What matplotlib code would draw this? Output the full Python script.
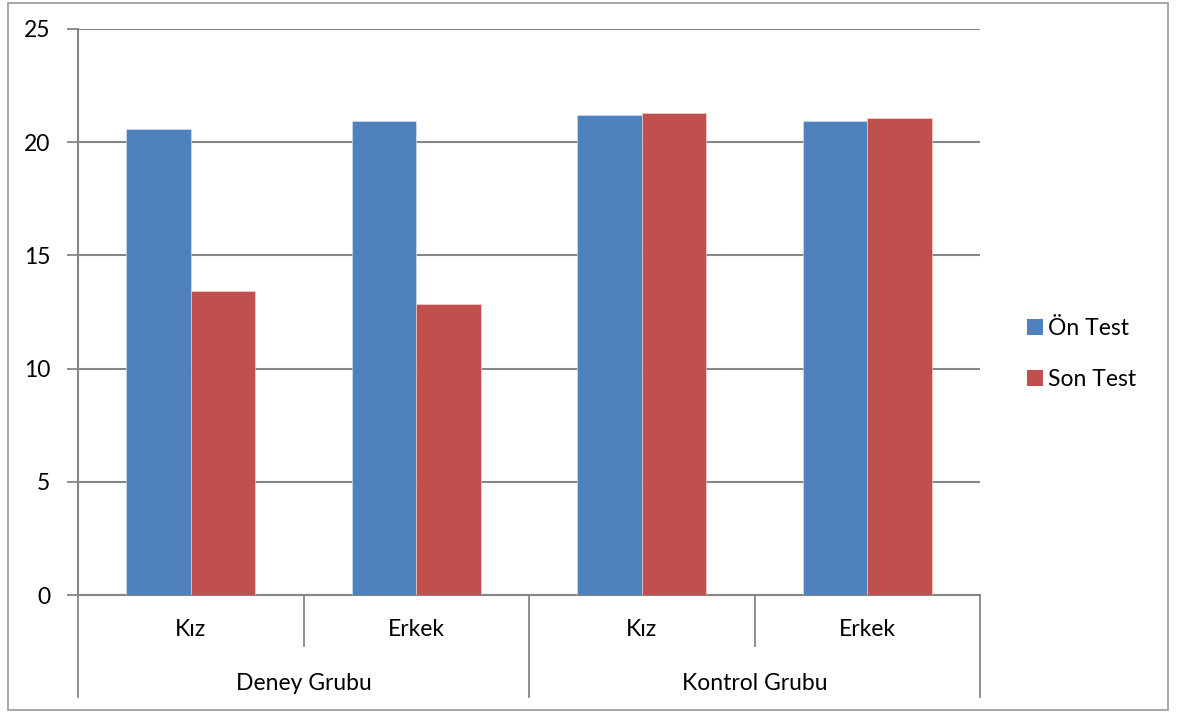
import matplotlib
matplotlib.use("Agg")
import matplotlib.pyplot as plt
from matplotlib.patches import Rectangle, Patch
import numpy as np

plt.rcParams['font.family'] = ['Lato', 'DejaVu Sans']

groups = ["Deney Grubu", "Kontrol Grubu"]
subcats = ["Kız", "Erkek", "Kız", "Erkek"]
series_names = ["Ön Test", "Son Test"]
on_test = [20.58, 20.92, 21.21, 20.93]
son_test = [13.42, 12.84, 21.29, 21.05]
yticks = [0, 5, 10, 15, 20, 25]

blue = "#4F81BD"
red = "#C0504D"
grid_c = "#868686"
FS = 16.5

W, H = 1177, 713
fig = plt.figure(figsize=(W / 100, H / 100), dpi=100)
fig.patch.set_facecolor("white")
fig.add_artist(Rectangle((8 / W, 1 - 710 / H), (1168 - 8) / W, (710 - 3) / H,
                         transform=fig.transFigure, fill=False, edgecolor="#A0A0A0", lw=1.3))

ax = fig.add_axes([78 / W, 1 - 595 / H, (980 - 78) / W, (595 - 29) / H])
x = np.arange(len(subcats))
bw = 1 / 3.5
ax.bar(x - bw / 2, on_test, bw, color=blue, edgecolor="#DCE6F2", lw=0.4, zorder=3)
ax.bar(x + bw / 2, son_test, bw, color=red, edgecolor="#F2DCDB", lw=0.4, zorder=3)

ax.set_xlim(-0.5, len(subcats) - 0.5)
ax.set_ylim(0, 25)
ax.set_yticks(yticks)
ax.set_yticklabels([str(v) for v in yticks], fontsize=FS)
ax.yaxis.grid(True, color=grid_c, lw=1.5, zorder=0)
ax.set_axisbelow(True)
ax.tick_params(axis='y', length=8, width=1.3, color=grid_c, pad=12)
ax.set_xticks([])
for s in ["top", "right"]:
    ax.spines[s].set_visible(False)
for s in ["left", "bottom"]:
    ax.spines[s].set_color(grid_c)
    ax.spines[s].set_linewidth(1.5)

tr = ax.get_xaxis_transform()
y_short = -51 / 566
y_long = -102 / 566
bounds = np.arange(len(subcats) + 1) - 0.5
for i, b in enumerate(bounds):
    yend = y_long if i % 2 == 0 else y_short
    ax.plot([b, b], [0, yend], transform=tr, color=grid_c, lw=1.3, clip_on=False)
for i, lab in enumerate(subcats):
    ax.text(x[i], -35 / 566, lab, transform=tr, ha='center', va='center', fontsize=FS)
for g, name in enumerate(groups):
    ax.text(2 * g + 0.5, -88 / 566, name, transform=tr, ha='center', va='center', fontsize=FS)

handles = [Patch(facecolor=blue), Patch(facecolor=red)]
fig.legend(handles, series_names, loc='center left',
           bbox_to_anchor=(1006 / W, 1 - 354 / H), frameon=False, fontsize=FS,
           handlelength=0.7, handleheight=0.7, handletextpad=0.25, labelspacing=1.3)

fig.savefig("out.png", dpi=100)
